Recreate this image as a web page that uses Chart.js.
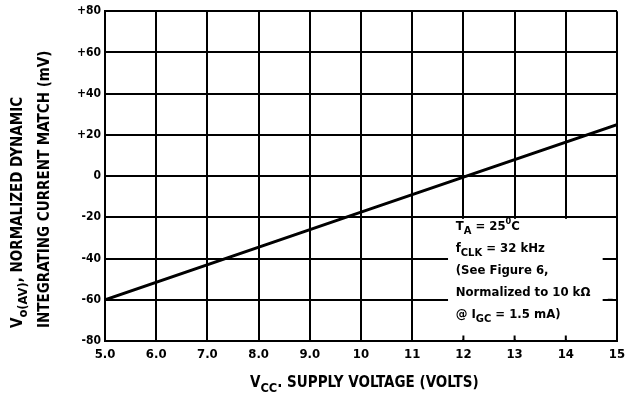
<!DOCTYPE html>
<html>
<head>
<meta charset="utf-8">
<script src="https://cdn.jsdelivr.net/npm/chart.js@4.4.0/dist/chart.umd.min.js"></script>
<style>
html, body { margin: 0; padding: 0; background: #fff; }
#wrap { width: 643px; height: 401px; }
</style>
</head>
<body>
<div id="wrap"><canvas id="coolChart"></canvas></div>
<script>
// values
const supplyVolts = [5, 10, 15];
const matchMv = [-60, -17.5, 25];

const xTickLabels = ['5.0', '6.0', '7.0', '8.0', '9.0', '10', '11', '12', '13', '14', '15'];
const yTickLabels = ['-80', '-60', '-40', '-20', '0', '+20', '+40', '+60', '+80'];

const noteLines = [
    [['T', 'n'], ['A', 'sub'], [' = 25', 'n'], ['0', 'sup'], ['C', 'n']],
    [['f', 'n'], ['CLK', 'sub'], [' = 32 kHz', 'n']],
    [['(See Figure 6,', 'n']],
    [['Normalized to 10 k\u03A9', 'n']],
    [['@ I', 'n'], ['GC', 'sub'], [' = 1.5 mA)', 'n']]
];

const FONT = '"DejaVu Sans Condensed", "Liberation Sans Narrow", sans-serif';

function main() {
    buildChart();
}

// draws text with sub/superscript pieces, returns end x
function drawRich(ctx, parts, x, y, size) {
    parts.forEach(p => {
        let s = size, dy = 0;
        if (p[1] == 'sub') { s = size * 0.85; dy = size * 0.35; }
        if (p[1] == 'sup') { s = size * 0.7; dy = -size * 0.4; }
        ctx.font = 'bold ' + s + 'px ' + FONT;
        ctx.fillText(p[0], x, y + dy);
        x += ctx.measureText(p[0]).width;
    });
    return x;
}

const notePlugin = {
    id: 'note',
    beforeDatasetsDraw(chart) {
        const ctx = chart.ctx;
        const xs = chart.scales.x, ys = chart.scales.y;
        ctx.save();
        // blank box behind the conditions text
        let left = xs.getPixelForValue(11.7);
        let right = xs.getPixelForValue(14.72);
        let top = ys.getPixelForValue(-20) + 1.5;
        let bottom = ys.getPixelForValue(-80) - 1.5;
        ctx.fillStyle = '#fff';
        ctx.fillRect(left, top, right - left, bottom - top);
        // little ticks on the bottom axis
        ctx.strokeStyle = '#000';
        ctx.lineWidth = 2;
        [12, 13, 14].forEach(v => {
            let px = xs.getPixelForValue(v);
            ctx.beginPath();
            ctx.moveTo(px, bottom + 1);
            ctx.lineTo(px, bottom - 4);
            ctx.stroke();
        });
        // -60 grid stub at the right edge
        let y60 = ys.getPixelForValue(-60);
        ctx.beginPath();
        ctx.moveTo(xs.getPixelForValue(14.82), y60);
        ctx.lineTo(right + 10, y60);
        ctx.stroke();

        ctx.fillStyle = '#000';
        ctx.textBaseline = 'middle';
        ctx.textAlign = 'left';
        let tx = xs.getPixelForValue(11.85);
        let ty = ys.getPixelForValue(-24.5);
        noteLines.forEach((line, i) => {
            drawRich(ctx, line, tx, ty + i * 22, 13);
        });
        ctx.restore();
    },
    afterDraw(chart) {
        const ctx = chart.ctx;
        ctx.save();
        ctx.fillStyle = '#000';
        ctx.textBaseline = 'middle';
        ctx.textAlign = 'left';
        // x axis title
        drawRich(ctx, [['V', 'n'], ['CC', 'sub'], ['. SUPPLY VOLTAGE (VOLTS)', 'n']], 250, 383, 15);
        // y axis title, two lines, rotated
        ctx.translate(0, 328);
        ctx.rotate(-Math.PI / 2);
        drawRich(ctx, [['V', 'n'], ['o(AV)', 'sub'], [', NORMALIZED DYNAMIC', 'n']], 0, 18, 15);
        drawRich(ctx, [['INTEGRATING CURRENT MATCH (mV)', 'n']], 0, 45, 15);
        ctx.restore();
    }
};

function buildChart() {
    let points = supplyVolts.map((v, i) => ({ x: v, y: matchMv[i] }));

    var ctx = document.getElementById('coolChart').getContext('2d');
    var chart = new Chart(ctx, {
        type: 'line',
        data: {
            datasets: [{
                data: points,
                borderColor: '#000',
                borderWidth: 3,
                pointRadius: 0,
                tension: 0
            }]
        },
        options: {
            responsive: true,
            maintainAspectRatio: false,
            animation: false,
            layout: { padding: { left: 0, top: 10, right: 26, bottom: 0 } },
            plugins: { legend: { display: false }, tooltip: { enabled: false } },
            scales: {
                x: {
                    type: 'linear',
                    min: 5,
                    max: 15,
                    ticks: {
                        stepSize: 1,
                        padding: 6,
                        color: '#000',
                        font: { family: FONT, size: 13, weight: 'bold' },
                        callback: (v, i) => xTickLabels[i]
                    },
                    grid: { color: '#000', lineWidth: 2, drawTicks: false },
                    border: { color: '#000', width: 2 },
                    afterFit: s => { s.height = 60; }
                },
                y: {
                    min: -80,
                    max: 80,
                    ticks: {
                        stepSize: 20,
                        padding: 4,
                        color: '#000',
                        font: { family: FONT, size: 12, weight: 'bold' },
                        callback: (v, i) => yTickLabels[i]
                    },
                    grid: { color: '#000', lineWidth: 2, drawTicks: false },
                    border: { color: '#000', width: 2 },
                    afterFit: s => { s.width = 105; }
                }
            }
        },
        plugins: [notePlugin]
    });
}

main();
</script>
</body>
</html>
